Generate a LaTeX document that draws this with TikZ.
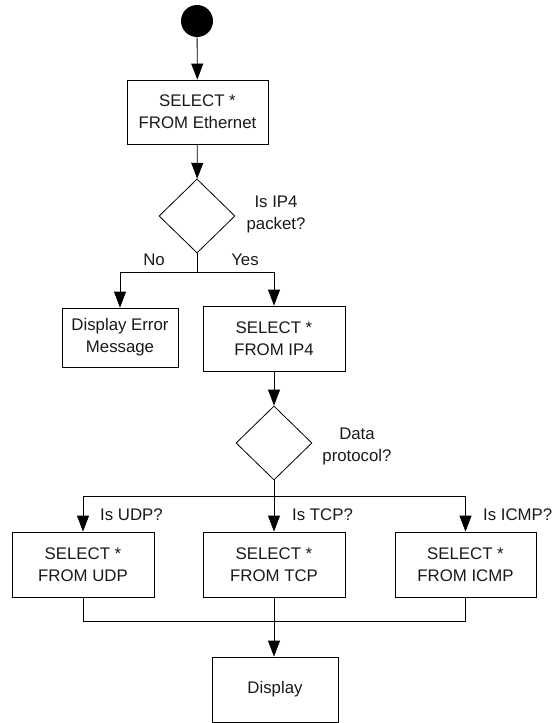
\documentclass[tikz,border=0pt]{standalone}
\usepackage{fontspec}
\setmainfont{Liberation Sans}
\usetikzlibrary{shapes.geometric,arrows.meta}
\begin{document}
\begin{tikzpicture}[x=1pt,y=-1pt,
  every node/.style={font=\fontsize{16.8}{22}\selectfont, text=black!90},
  box/.style={draw, line width=0.8pt, align=center, inner sep=0pt},
  dec/.style={draw, diamond, line width=0.8pt, inner sep=0pt, minimum width=76pt, minimum height=74pt},
  lab/.style={align=center, inner sep=0pt},
  conn/.style={line width=0.8pt},
  arr/.style={conn, -{Triangle[length=16pt,width=12pt]}}]
\useasboundingbox (0,0) rectangle (552,723);
\node[circle, fill=black, minimum size=32pt, inner sep=0pt] (start) at (197,21) {};
\node[box, minimum width=141pt, minimum height=64pt] (eth) at (197.5,112) {SELECT *\\FROM Ethernet};
\node[dec] (d1) at (197,216) {};
\node[lab] (q1) at (276,214) {Is IP4\\packet?};
\node[box, minimum width=116pt, minimum height=59pt] (err) at (120,337.5) {Display Error\\Message};
\node[box, minimum width=142pt, minimum height=65pt] (ip4) at (274,338.5) {SELECT *\\FROM IP4};
\node[dec] (d2) at (274,443) {};
\node[lab] (q2) at (357,446) {Data\\protocol?};
\node[box, minimum width=142pt, minimum height=65pt] (udp) at (83,564.5) {SELECT *\\FROM UDP};
\node[box, minimum width=142pt, minimum height=65pt] (tcp) at (274,564.5) {SELECT *\\FROM TCP};
\node[box, minimum width=141pt, minimum height=65pt] (icmp) at (465.5,564.5) {SELECT *\\FROM ICMP};
\node[box, minimum width=126pt, minimum height=65pt] (disp) at (275,689.5) {Display};
\node[lab] (no) at (154,260) {No};
\node[lab] (yes) at (245,260) {Yes};
\node[lab, anchor=west] (lu) at (100,515) {Is UDP?};
\node[lab, anchor=west] (lt) at (292,515) {Is TCP?};
\node[lab, anchor=west] (li) at (483,515) {Is ICMP?};
\coordinate (b1) at (197,272);
\coordinate (b2) at (274,496);
\coordinate (m1) at (83,621);
\coordinate (m2) at (465.5,621);
\draw[arr] (start) -- (eth);
\draw[arr] (eth) -- (d1);
\draw[conn] (d1.south) -- (b1);
\draw[arr] (b1) -| (err.north);
\draw[arr] (b1) -| (ip4.north);
\draw[arr] (ip4) -- (d2);
\draw[arr] (d2.south) -- (tcp.north);
\draw[arr] (b2) -| (udp.north);
\draw[arr] (b2) -| (icmp.north);
\draw[conn] (udp.south) -- (m1) -- (m2) -- (icmp.south);
\draw[arr] (tcp.south) -- (tcp.south |- disp.north);
\end{tikzpicture}
\end{document}
